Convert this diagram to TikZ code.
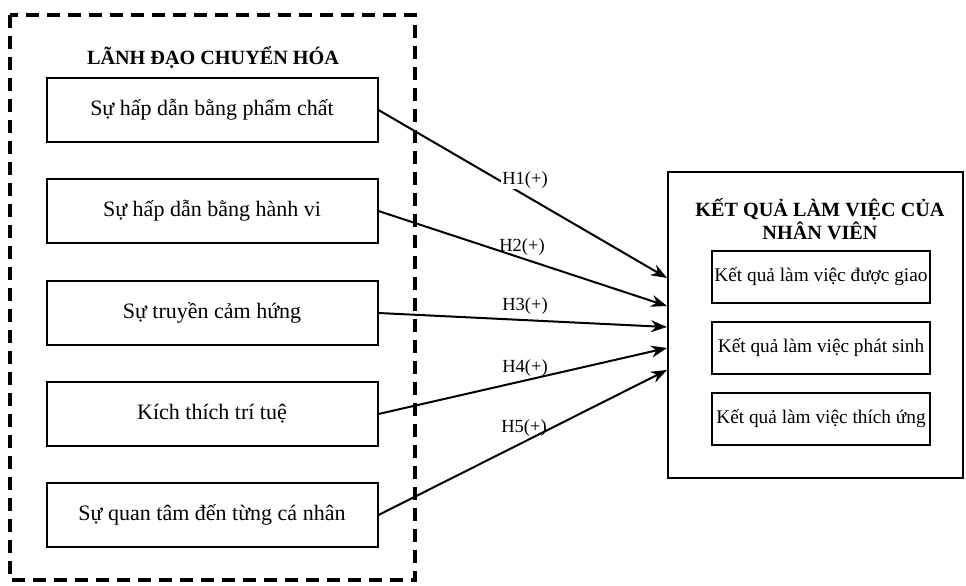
\documentclass[tikz,border=0pt]{standalone}
\usepackage{fontspec}
\setmainfont{Liberation Serif}
\usetikzlibrary{arrows.meta}
\begin{document}
\begin{tikzpicture}[x=1pt,y=-1pt,>={Stealth[length=16pt,width=12pt]},
  factor/.style={draw,line width=2pt,minimum width=331pt,minimum height=64pt,font=\fontsize{22}{26}\selectfont},
  outcome/.style={draw,line width=2pt,minimum width=218pt,minimum height=52pt,inner sep=1pt,font=\fontsize{19.3}{23}\selectfont},
  hyp/.style={inner sep=1pt,font=\fontsize{18.5}{22}\selectfont},
  heading/.style={align=center,font=\fontsize{20.2}{23}\selectfont\bfseries}]
\useasboundingbox (0,0) rectangle (966,586);
% transformational leadership
\draw[line width=4pt,dash pattern=on 13pt off 8pt] (10,15) rectangle (415,580);
\node[heading] (lead) at (213,57) {LÃNH ĐẠO CHUYỂN HÓA};
\node[factor] (f1) at (212,110) {Sự hấp dẫn bằng phẩm chất};
\node[factor] (f2) at (212,211) {Sự hấp dẫn bằng hành vi};
\node[factor] (f3) at (212,313) {Sự truyền cảm hứng};
\node[factor] (f4) at (212,414) {Kích thích trí tuệ};
\node[factor] (f5) at (212,515) {Sự quan tâm đến từng cá nhân};
% employee performance
\node[draw,line width=2pt,minimum width=295pt,minimum height=306pt] (perf) at (815,325) {};
\node[heading] (perft) at (820,219) {KẾT QUẢ LÀM VIỆC CỦA\\NHÂN VIÊN};
\node[outcome] (o1) at (821,277) {Kết quả làm việc được giao};
\node[outcome] (o2) at (821,348) {Kết quả làm việc phát sinh};
\node[outcome] (o3) at (821,419) {Kết quả làm việc thích ứng};
% hypotheses
\coordinate (e1) at (667,278);
\coordinate (e2) at (667,306);
\coordinate (e3) at (667,327);
\coordinate (e4) at (667,348);
\coordinate (e5) at (667,370);
\draw[->,line width=2pt] (f1.east) -- (e1);
\draw[->,line width=2pt] (f2.east) -- (e2);
\draw[->,line width=2pt] (f3.east) -- (e3);
\draw[->,line width=2pt] (f4.east) -- (e4);
\draw[->,line width=2pt] (f5.east) -- (e5);
\node[hyp,fill=white] (h1) at (525,180) {H1(+)};
\node[hyp] (h2) at (522,247) {H2(+)};
\node[hyp] (h3) at (525,306) {H3(+)};
\node[hyp] (h4) at (525,368) {H4(+)};
\node[hyp] (h5) at (524,428) {H5(+)};
\end{tikzpicture}
\end{document}
